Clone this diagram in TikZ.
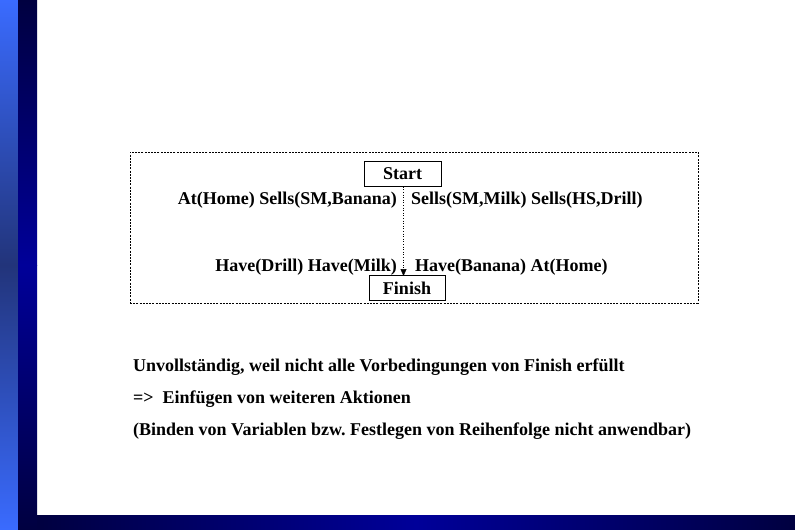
\documentclass[tikz,border=0pt]{standalone}
\usepackage{fontspec}
\setmainfont{Liberation Serif}
\usetikzlibrary{arrows.meta}
\frenchspacing
\definecolor{lightbar}{HTML}{3A6BFF}
\definecolor{lightmid}{HTML}{22347A}
\definecolor{darkbar}{HTML}{000040}
\definecolor{darkmid}{HTML}{000099}
\tikzset{
  lbl/.style={font=\fontsize{18}{20}\selectfont\bfseries, inner sep=0pt},
  body/.style={font=\fontsize{18}{20}\selectfont\bfseries, inner sep=0pt, anchor=base west},
  stepbox/.style={draw, line width=0.7pt, font=\fontsize{18}{20}\selectfont\bfseries, minimum height=25pt, inner sep=0pt},
}
\begin{document}
\begin{tikzpicture}[x=1pt,y=-1pt]
\useasboundingbox (0,0) rectangle (795,530);
\fill[white] (0,0) rectangle (795,530);
% left bars
\shade[top color=lightbar, bottom color=lightmid] (0,0) rectangle (18,265);
\shade[top color=lightmid, bottom color=lightbar] (0,265) rectangle (18,530);
\shade[top color=darkbar, bottom color=darkmid] (18,0) rectangle (37,265);
\shade[top color=darkmid, bottom color=darkbar] (18,265) rectangle (37,530);
% bottom bar
\shade[left color=darkbar, right color=darkmid] (37,515) rectangle (416,530);
\shade[left color=darkmid, right color=darkbar] (416,515) rectangle (795,530);
% dashed frame
\node[draw, dash pattern=on 2pt off 1.2pt, line width=0.6pt, minimum width=568pt, minimum height=151pt, inner sep=0pt] (frame) at (414,227.5) {};
% start / finish
\node[stepbox, minimum width=77pt] (start) at (402.5,174) {Start};
\node[stepbox, minimum width=76pt] (finish) at (407,288) {Finish};
\coordinate (tip) at (403.5,276);
\draw[dotted, line width=0.6pt, -{Triangle[length=7pt,width=6pt]}] (start.south -| tip) -- (tip);
% labels
\node[lbl, anchor=base east] (e1) at (397,204) {At(Home) Sells(SM,Banana)};
\node[lbl, anchor=base west] (e2) at (411,204) {Sells(SM,Milk) Sells(HS,Drill)};
\node[lbl, anchor=base east] (p1) at (397,271) {Have(Drill) Have(Milk)};
\node[lbl, anchor=base west] (p2) at (415,271) {Have(Banana) At(Home)};
% body text
\node[body] (t1) at (133,371) {Unvollständig, weil nicht alle Vorbedingungen von Finish erfüllt};
\node[body] (t2) at (133,403) {=>\ \ Einfügen von weiteren Aktionen};
\node[body] (t3) at (133,435) {(Binden von Variablen bzw. Festlegen von Reihenfolge nicht anwendbar)};
\end{tikzpicture}
\end{document}
